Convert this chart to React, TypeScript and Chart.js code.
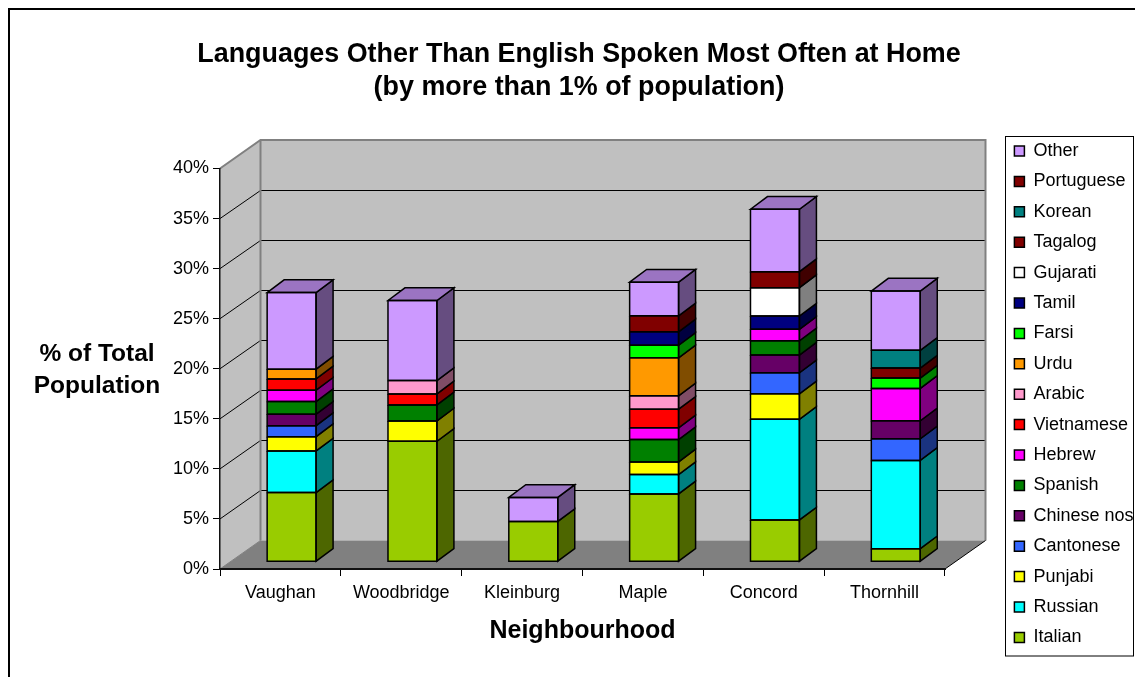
import React, { useEffect, useRef } from "react";
import { Chart, registerables } from "chart.js";

Chart.register(...registerables);

const neighbourhoods = ["Vaughan", "Woodbridge", "Kleinburg", "Maple", "Concord", "Thornhill"];

const italian = [6.9, 12.03, 4.02, 6.77, 4.17, 1.3];
const russian = [4.16, 0, 0, 1.93, 10.05, 8.82];
const punjabi = [1.43, 2.03, 0, 1.27, 2.55, 0];
const cantonese = [1.1, 0, 0, 0, 2.1, 2.16];
const chineseNos = [1.14, 0, 0, 0, 1.77, 1.8];
const spanish = [1.26, 1.6, 0, 2.23, 1.43, 0];
const hebrew = [1.14, 0, 0, 1.17, 1.14, 3.23];
const vietnamese = [1.13, 1.1, 0, 1.86, 0, 0];
const arabic = [0, 1.33, 0, 1.34, 0, 0];
const urdu = [0.97, 0, 0, 3.79, 0, 0];
const farsi = [0, 0, 0, 1.26, 0, 1.03];
const tamil = [0, 0, 0, 1.34, 1.33, 0];
const gujarati = [0, 0, 0, 0, 2.83, 0];
const tagalog = [0, 0, 0, 0, 1.6, 1.0];
const korean = [0, 0, 0, 0, 0, 1.77];
const portuguese = [0, 0, 0, 1.6, 0, 0];
const other = [7.65, 8.0, 2.4, 3.36, 6.23, 5.92];

const languages = [
  { label: "Italian", data: italian, color: [153, 204, 0] },
  { label: "Russian", data: russian, color: [0, 255, 255] },
  { label: "Punjabi", data: punjabi, color: [255, 255, 0] },
  { label: "Cantonese", data: cantonese, color: [51, 102, 255] },
  { label: "Chinese nos", data: chineseNos, color: [102, 0, 102] },
  { label: "Spanish", data: spanish, color: [0, 128, 0] },
  { label: "Hebrew", data: hebrew, color: [255, 0, 255] },
  { label: "Vietnamese", data: vietnamese, color: [255, 0, 0] },
  { label: "Arabic", data: arabic, color: [255, 153, 204] },
  { label: "Urdu", data: urdu, color: [255, 153, 0] },
  { label: "Farsi", data: farsi, color: [0, 255, 0] },
  { label: "Tamil", data: tamil, color: [0, 0, 128] },
  { label: "Gujarati", data: gujarati, color: [255, 255, 255] },
  { label: "Tagalog", data: tagalog, color: [128, 0, 0] },
  { label: "Korean", data: korean, color: [0, 128, 128] },
  { label: "Portuguese", data: portuguese, color: [128, 0, 0] },
  { label: "Other", data: other, color: [204, 153, 255] },
];

const CANVAS_W = 1159;
const CANVAS_H = 669;
const FONT = '"Liberation Sans", Arial, sans-serif';

// Depth of the 3D box and where the columns stand inside it.
const WALL_DX = 40.5;
const WALL_DY = -28.5;
const BAR_DX = 17;
const BAR_DY = -12.7;
const BAR_SHIFT_X = 11.2;
const BAR_SHIFT_Y = -7.3;

const shade = (c: number[], k: number) =>
  `rgb(${Math.round(c[0] * k)},${Math.round(c[1] * k)},${Math.round(c[2] * k)})`;

const poly = (ctx: CanvasRenderingContext2D, pts: number[][], fill: string | null, stroke?: string, lw = 1) => {
  ctx.beginPath();
  pts.forEach((p, i) => (i ? ctx.lineTo(p[0], p[1]) : ctx.moveTo(p[0], p[1])));
  if (fill) {
    ctx.closePath();
    ctx.fillStyle = fill;
    ctx.fill();
  }
  if (stroke) {
    ctx.strokeStyle = stroke;
    ctx.lineWidth = lw;
    ctx.stroke();
  }
};

const box3d = {
  id: "box3d",
  beforeLayout(chart: any) {
    // Reserve room between the plot and the legend frame.
    const legend = chart.legend;
    if (legend && !legend.__wrapped) {
      const fit = legend.fit.bind(legend);
      legend.fit = () => {
        fit();
        legend.width = 205;
      };
      legend.__wrapped = true;
    }
  },
  afterLayout(chart: any) {
    const legend = chart.legend;
    legend.left = 994;
    legend.right = 1125;
    legend.top = 121.6;
    legend.bottom = 660;
  },
  beforeDraw(chart: any) {
    const { ctx, chartArea: a, scales } = chart;
    ctx.save();
    // Outer frame, of which only the top and left edges lie on the page.
    ctx.strokeStyle = "#000";
    ctx.lineWidth = 2;
    ctx.strokeRect(1, 1, CANVAS_W, CANVAS_H + 10);

    const l = a.left;
    const r = a.right;
    const t = a.top;
    const b = a.bottom;
    const dx = WALL_DX;
    const dy = WALL_DY;
    poly(ctx, [[l, t], [l + dx, t + dy], [l + dx, b + dy], [l, b]], "#C0C0C0");
    poly(ctx, [[l + dx, t + dy], [r + dx, t + dy], [r + dx, b + dy], [l + dx, b + dy]], "#C0C0C0");
    poly(ctx, [[l, b], [l + dx, b + dy], [r + dx, b + dy], [r, b]], "#808080");

    // Gridlines run along the side wall and across the back wall.
    const y = scales.y;
    ctx.strokeStyle = "#000";
    ctx.lineWidth = 1;
    y.ticks.forEach((tk: any) => {
      if (tk.value === 0 || tk.value === 40) return;
      const py = y.getPixelForValue(tk.value);
      const back = Math.round(py + dy) + 0.5;
      ctx.beginPath();
      ctx.moveTo(l, py);
      ctx.lineTo(l + dx, back);
      ctx.lineTo(r + dx, back);
      ctx.stroke();
    });

    // Wall edges
    poly(ctx, [[l, t], [l + dx, t + dy], [r + dx, t + dy], [r + dx, b + dy]], null, "#808080", 2);
    poly(ctx, [[l + dx, t + dy], [l + dx, b + dy]], null, "#808080", 2);
    poly(ctx, [[l, b], [l + dx, b + dy]], null, "#808080", 1);
    poly(ctx, [[r, b], [r + dx, b + dy]], null, "#000", 1);

    // Legend frame
    ctx.strokeStyle = "#000";
    ctx.lineWidth = 1;
    ctx.strokeRect(997.5, 128.5, 128, 519.5);

    // Value-axis title, set horizontally
    ctx.fillStyle = "#000";
    ctx.font = `bold 24.5px ${FONT}`;
    ctx.textAlign = "center";
    ctx.textBaseline = "middle";
    ctx.fillText("% of Total", 89, 346.5);
    ctx.fillText("Population", 89, 378.5);
    ctx.restore();
  },
  beforeDatasetsDraw(chart: any) {
    chart.ctx.save();
    chart.ctx.translate(BAR_SHIFT_X, BAR_SHIFT_Y);
  },
  afterDatasetsDraw(chart: any) {
    const ctx = chart.ctx;
    const count = neighbourhoods.length;
    ctx.lineJoin = "miter";
    for (let i = 0; i < count; i++) {
      let topIndex = -1;
      languages.forEach((lang, d) => {
        if (lang.data[i] > 0) topIndex = d;
      });
      languages.forEach((lang, d) => {
        if (!(lang.data[i] > 0)) return;
        const el = chart.getDatasetMeta(d).data[i];
        const left = el.x - el.width / 2;
        const right = el.x + el.width / 2;
        const top = el.y;
        const base = el.base;
        poly(
          ctx,
          [[right, top], [right + BAR_DX, top + BAR_DY], [right + BAR_DX, base + BAR_DY], [right, base]],
          shade(lang.color, 0.5),
          "#000",
          1.5
        );
        if (d === topIndex) {
          poly(
            ctx,
            [[left, top], [left + BAR_DX, top + BAR_DY], [right + BAR_DX, top + BAR_DY], [right, top]],
            shade(lang.color, 0.76),
            "#000",
            1.5
          );
        }
        poly(ctx, [[left, top], [right, top], [right, base], [left, base], [left, top]], null, "#000", 1.5);
      });
    }
    ctx.restore();
  },
};

export default function App() {
  const ref = useRef<HTMLCanvasElement>(null);

  useEffect(() => {
    if (!ref.current) return;
    Chart.defaults.font.family = FONT;
    Chart.defaults.color = "#000";
    const chart = new Chart(ref.current, {
      type: "bar",
      data: {
        labels: neighbourhoods,
        datasets: languages.map((lang) => ({
          label: lang.label,
          data: lang.data,
          backgroundColor: shade(lang.color, 1),
          borderWidth: 0,
          stack: "all",
          categoryPercentage: 1,
          barPercentage: 0.405,
        })),
      },
      options: {
        animation: false,
        responsive: false,
        layout: { padding: { left: 0, top: 0, right: 17, bottom: 0 } },
        plugins: {
          tooltip: { enabled: false },
          title: {
            display: true,
            text: [
              "Languages Other Than English Spoken Most Often at Home",
              "(by more than 1% of population)",
            ],
            color: "#000",
            font: { size: 26.9, weight: "bold", lineHeight: 1.227 },
            padding: { top: 30.5, bottom: 64 },
          },
          legend: {
            display: true,
            position: "right",
            align: "start",
            reverse: true,
            labels: {
              color: "#000",
              font: { size: 18 },
              boxWidth: 10,
              boxHeight: 10,
              padding: 12.4,
              generateLabels(c: any) {
                return Chart.defaults.plugins.legend.labels.generateLabels(c).map((item: any) => ({
                  ...item,
                  strokeStyle: "#000",
                  lineWidth: 1.5,
                }));
              },
            },
          },
        },
        scales: {
          x: {
            stacked: true,
            afterFit(s: any) {
              s.height = 108;
            },
            border: { color: "#111", width: 2 },
            grid: { drawOnChartArea: false, color: "#000", tickLength: 7 },
            ticks: { color: "#000", font: { size: 18 }, padding: 6, maxRotation: 0 },
            title: {
              display: true,
              text: "Neighbourhood",
              color: "#000",
              font: { size: 25, weight: "bold", lineHeight: 1.2 },
              padding: { top: 0, bottom: 30.5 },
            },
          },
          y: {
            stacked: true,
            min: 0,
            max: 40,
            afterFit(s: any) {
              s.width = 212;
            },
            border: { color: "#111", width: 1.5 },
            grid: { drawOnChartArea: false, color: "#000", tickLength: 7 },
            ticks: {
              color: "#000",
              stepSize: 5,
              font: { size: 18 },
              padding: 4,
              callback: (v: any) => `${v}%`,
            },
          },
        },
      },
      plugins: [box3d],
    } as any);
    return () => chart.destroy();
  }, []);

  return (
    <div style={{ position: "fixed", left: 8, top: 8, width: 1127, height: 669, overflow: "hidden", background: "#fff" }}>
      <canvas ref={ref} width={CANVAS_W} height={CANVAS_H} style={{ display: "block" }} />
    </div>
  );
}
